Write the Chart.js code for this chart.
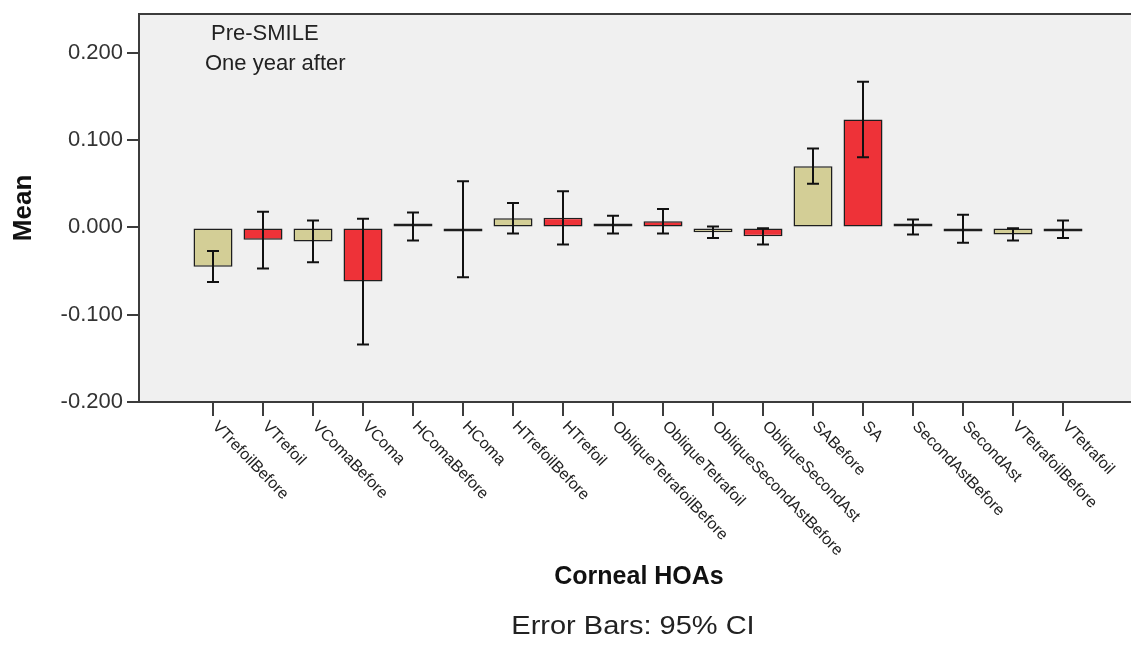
<!DOCTYPE html>
<html>
<head>
<meta charset="utf-8">
<script src="https://cdn.jsdelivr.net/npm/chart.js@4/dist/chart.umd.min.js"></script>
<style>
  body { margin: 0; background: #fff; }
  canvas { display: block; }
</style>
</head>
<body>
<canvas id="hoaChart" width="1131" height="645"></canvas>
<script>
/* ---------------------------------- Data ---------------------------------- */
const categories = [
    'VTrefoilBefore', 'VTrefoil', 'VComaBefore', 'VComa', 'HComaBefore', 'HComa',
    'HTrefoilBefore', 'HTrefoil', 'ObliqueTetrafoilBefore', 'ObliqueTetrafoil',
    'ObliqueSecondAstBefore', 'ObliqueSecondAst', 'SABefore', 'SA',
    'SecondAstBefore', 'SecondAst', 'VTetrafoilBefore', 'VTetrafoil'
];
const groups = ['Pre-SMILE', 'One year after'];
const groupOf = [0, 1, 0, 1, 0, 1, 0, 1, 0, 1, 0, 1, 0, 1, 0, 1, 0, 1];

const means = [
    -0.045, -0.014, -0.016, -0.062, 0.0005, -0.002,
    0.0105, 0.011, 0.004, 0.007, -0.0055, -0.010,
    0.070, 0.1235, 0.0005, -0.0015, -0.008, -0.002
];
const ciLow = [
    -0.0625, -0.047, -0.040, -0.134, -0.015, -0.057,
    -0.007, -0.0195, -0.007, -0.007, -0.012, -0.0195,
    0.050, 0.0805, -0.008, -0.0175, -0.015, -0.012
];
const ciHigh = [
    -0.027, 0.018, 0.008, 0.010, 0.017, 0.053,
    0.028, 0.0415, 0.0135, 0.021, 0.001, -0.001,
    0.0905, 0.167, 0.009, 0.0145, -0.001, 0.008
];
const yTicks = [-0.2, -0.1, 0.0, 0.1, 0.2];

/* -------------------------------- Styling --------------------------------- */
const groupColors = ['#d3ce96', '#ee3238'];
const axisColor = '#3c3c3c';
const FONT = 'Arial, "Liberation Sans", sans-serif';

/* -------------------------------- Plugins --------------------------------- */
const plotBackground = {
    id: 'plotBackground',
    beforeDraw(chart) {
        const { ctx, chartArea: a } = chart;
        ctx.save();
        ctx.fillStyle = '#f0f0f0';
        ctx.fillRect(a.left, a.top, a.right - a.left, a.bottom - a.top);
        // top frame line
        ctx.strokeStyle = axisColor;
        ctx.lineWidth = 2;
        ctx.beginPath();
        ctx.moveTo(a.left, a.top);
        ctx.lineTo(a.right, a.top);
        ctx.stroke();
        ctx.restore();
    }
};

const errorBars = {
    id: 'errorBars',
    afterDatasetsDraw(chart) {
        const { ctx, scales: { x, y } } = chart;
        ctx.save();
        ctx.strokeStyle = '#111';
        ctx.lineWidth = 2;
        categories.forEach((c, i) => {
            const px = x.getPixelForValue(i);
            const lo = y.getPixelForValue(ciLow[i]);
            const hi = y.getPixelForValue(ciHigh[i]);
            ctx.beginPath();
            ctx.moveTo(px, lo); ctx.lineTo(px, hi);
            ctx.moveTo(px - 6, lo); ctx.lineTo(px + 6, lo);
            ctx.moveTo(px - 6, hi); ctx.lineTo(px + 6, hi);
            ctx.stroke();
        });
        ctx.restore();
    }
};

const extraText = {
    id: 'extraText',
    afterDraw(chart) {
        const { ctx, scales: { x } } = chart;
        ctx.save();
        ctx.fillStyle = '#222';

        // rotated category labels
        ctx.font = '16px ' + FONT;
        ctx.textAlign = 'left';
        ctx.textBaseline = 'middle';
        categories.forEach((c, i) => {
            const px = x.getPixelForValue(i);
            ctx.save();
            ctx.translate(px + 2, 424);
            ctx.rotate(46 * Math.PI / 180);
            ctx.fillText(c, 0, 0);
            ctx.restore();
        });

        // group names inside the plot
        ctx.font = '22px ' + FONT;
        ctx.textBaseline = 'middle';
        ctx.fillText(groups[0], 211, 34);
        ctx.fillText(groups[1], 205, 64);

        // x axis title
        ctx.fillStyle = '#111';
        ctx.font = 'bold 25px ' + FONT;
        ctx.textAlign = 'center';
        ctx.fillText('Corneal HOAs', 639, 577);

        // footnote
        ctx.fillStyle = '#222';
        ctx.font = '25px ' + FONT;
        ctx.save();
        ctx.translate(633, 627);
        ctx.scale(1.16, 1);
        ctx.fillText('Error Bars: 95% CI', 0, 0);
        ctx.restore();

        ctx.restore();
    }
};

/* --------------------------------- Chart ---------------------------------- */
new Chart(document.getElementById('hoaChart'), {
    type: 'bar',
    data: {
        datasets: [{
            label: 'Mean',
            data: means.map((m, i) => ({ x: i, y: m })),
            backgroundColor: groupOf.map(g => groupColors[g]),
            borderColor: '#1e1e1e',
            borderWidth: 1.5,
            borderSkipped: false,
            minBarLength: 4,
            categoryPercentage: 1,
            barPercentage: 0.78
        }]
    },
    options: {
        responsive: false,
        animation: false,
        layout: { padding: { top: 13, right: 0, bottom: 0, left: 0 } },
        plugins: {
            legend: { display: false },
            tooltip: { enabled: false }
        },
        scales: {
            x: {
                type: 'linear',
                min: -1.48,
                max: 18.36,
                offset: false,
                afterBuildTicks: s => { s.ticks = categories.map((c, i) => ({ value: i })); },
                afterFit: s => { s.height = 243; },
                ticks: { display: false },
                grid: { offset: false, drawOnChartArea: false, drawTicks: true, tickLength: 14, tickColor: axisColor, lineWidth: 2 },
                border: { display: true, color: axisColor, width: 2 }
            },
            y: {
                min: -0.2,
                max: 0.2446,
                afterBuildTicks: s => { s.ticks = yTicks.map(v => ({ value: v })); },
                afterFit: s => { s.width = 139; },
                ticks: {
                    color: '#333',
                    font: { family: FONT, size: 22, lineHeight: 0.9 },
                    padding: 4,
                    callback: v => v.toFixed(3)
                },
                grid: { drawOnChartArea: false, drawTicks: true, tickLength: 12, tickColor: axisColor, lineWidth: 2 },
                border: { display: true, color: axisColor, width: 2 },
                title: {
                    display: true,
                    text: 'Mean',
                    color: '#111',
                    font: { family: FONT, size: 26, weight: 'bold' },
                    padding: { top: 8, bottom: 0 }
                }
            }
        }
    },
    plugins: [plotBackground, errorBars, extraText]
});
</script>
</body>
</html>
